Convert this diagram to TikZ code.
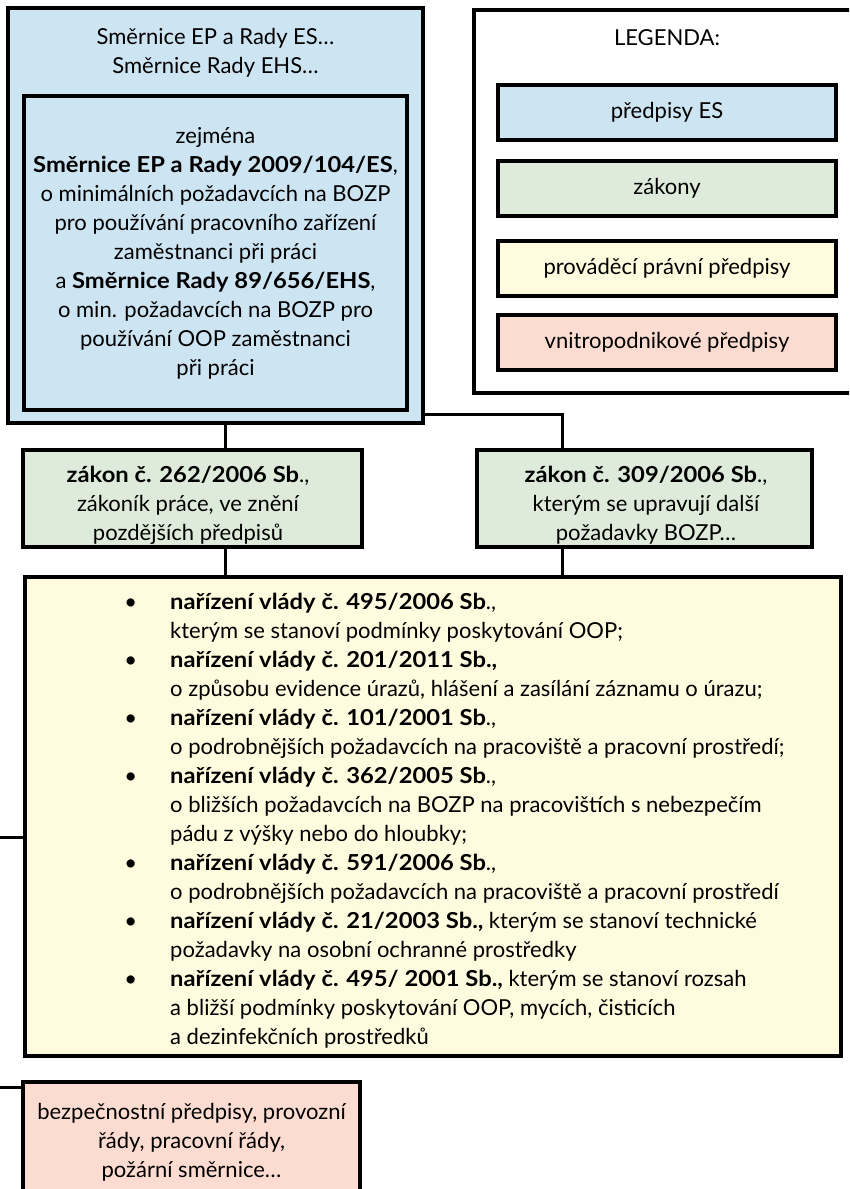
\documentclass[tikz,border=0pt]{standalone}
\usepackage{fontspec}
\setmainfont{Lato}[BoldFeatures={FakeStretch=1.08}]
\definecolor{cblue}{RGB}{205,228,242}
\definecolor{cgreen}{RGB}{222,235,218}
\definecolor{cyellow}{RGB}{255,251,222}
\definecolor{cpink}{RGB}{252,220,208}
\newcommand\Bul{\llap{\textbullet\hspace{33pt}}}
\tikzset{
  box/.style={draw=black, line width=3.5pt, inner sep=0pt, align=center},
  conn/.style={draw=black, line width=3pt},
  txt/.style={inner sep=0pt, align=center},
}
\begin{document}
\begin{tikzpicture}[x=1pt,y=-1pt, font=\fontsize{22}{29}\selectfont]
\useasboundingbox (0,0) rectangle (849,1189);
\clip (0,0) rectangle (849,1189);

% EU directives
\node (es) [box, fill=cblue, minimum width=415, minimum height=415] at (215.5,215.5) {};
\node (estitle) [txt] at (215.5,53) {Směrnice EP a Rady ES…\\Směrnice Rady EHS…};
\node (esin) [box, fill=cblue, minimum width=383, minimum height=314] at (215.5,253)
  {zejména\\\textbf{Směrnice EP a Rady 2009/104/ES},\\o minimálních požadavcích na BOZP\\pro používání pracovního zařízení\\zaměstnanci při práci\\a \textbf{Směrnice Rady 89/656/EHS},\\o min. požadavcích na BOZP pro\\používání OOP zaměstnanci\\při práci};

% legend (its right side runs past the page edge)
\node (leg) [fill=white, inner sep=0pt, minimum width=426, minimum height=383] at (687,201.5) {};
\draw[line width=3.5pt] (leg.north east) -- (leg.north west) -- (leg.south west) -- (leg.south east);
\node (legtitle) [txt] at (667,38) {LEGENDA:};
\node (l1) [box, fill=cblue, minimum width=338, minimum height=55] at (667,112.5) {předpisy ES};
\node (l2) [box, fill=cgreen, minimum width=338, minimum height=55] at (667,188.5) {zákony};
\node (l3) [box, fill=cyellow, minimum width=338, minimum height=55] at (667,268.5) {prováděcí právní předpisy};
\node (l4) [box, fill=cpink, minimum width=338, minimum height=55] at (667,342.5) {vnitropodnikové předpisy};

% laws
\node (gl) [box, fill=cgreen, minimum width=339, minimum height=97] at (192.5,498.5) {};
\node (glt) [txt] at (188,505)
  {\textbf{zákon č. 262/2006 Sb}.,\\zákoník práce, ve znění\\pozdějších předpisů};
\node (gr) [box, fill=cgreen, minimum width=335, minimum height=97] at (644.5,498.5) {};
\node (grt) [txt] at (646,505)
  {\textbf{zákon č. 309/2006 Sb}.,\\kterým se upravují další\\požadavky BOZP…};

% regulations
\node (nv) [box, fill=cyellow, minimum width=816, minimum height=479] at (433,816.5) {};
\node (nvtext) [txt, align=left, anchor=west] at (170,820.5)
  {\Bul\textbf{nařízení vlády č. 495/2006 Sb}.,\\
   kterým se stanoví podmínky poskytování OOP;\\
   \Bul\textbf{nařízení vlády č. 201/2011 Sb.,}\\
   o způsobu evidence úrazů, hlášení a zasílání záznamu o úrazu;\\
   \Bul\textbf{nařízení vlády č. 101/2001 Sb}.,\\
   o podrobnějších požadavcích na pracoviště a pracovní prostředí;\\
   \Bul\textbf{nařízení vlády č. 362/2005 Sb}.,\\
   o bližších požadavcích na BOZP na pracovištích s nebezpečím\\
   pádu z výšky nebo do hloubky;\\
   \Bul\textbf{nařízení vlády č. 591/2006 Sb}.,\\
   o podrobnějších požadavcích na pracoviště a pracovní prostředí\\
   \Bul\textbf{nařízení vlády č. 21/2003 Sb.,} kterým se stanoví technické\\
   požadavky na osobní ochranné prostředky\\
   \Bul\textbf{nařízení vlády č. 495/ 2001 Sb.,} kterým se stanoví rozsah\\
   a bližší podmínky poskytování OOP, mycích, čisticích\\
   a dezinfekčních prostředků};

% internal
\node (pk) [box, fill=cpink, minimum width=337, minimum height=120] at (191.5,1142)
  {bezpečnostní předpisy, provozní\\řády, pracovní řády,\\požární směrnice…};

% connectors
\coordinate (cx1) at (225,0);
\coordinate (cx2) at (562,0);
\coordinate (cy1) at (0,414);
\coordinate (s1) at (0,837);
\coordinate (s2) at (0,1087);
\draw[conn] (es.south -| cx1) -- (gl.north -| cx1);
\draw[conn] (es.east |- cy1) -| (gr.north -| cx2);
\draw[conn] (gl.south -| cx1) -- (nv.north -| cx1);
\draw[conn] (gr.south -| cx2) -- (nv.north -| cx2);
\draw[conn] (s1) -- (nv.west |- s1);
\draw[conn] (s2) -- (pk.west |- s2);
\end{tikzpicture}
\end{document}
